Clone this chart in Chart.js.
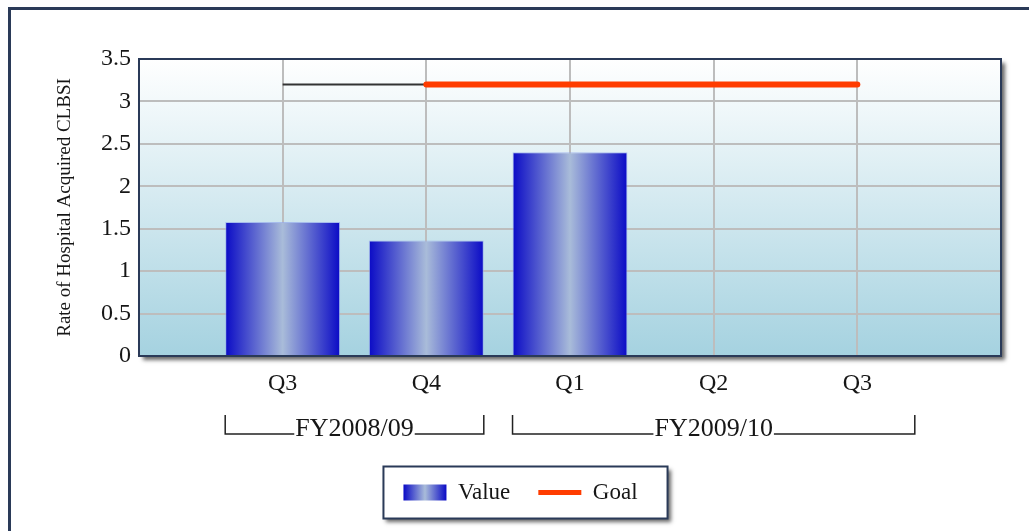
<!DOCTYPE html>
<html>
<head>
<meta charset="utf-8">
<title>Rate of Hospital Acquired CLBSI</title>
<script src="https://cdn.jsdelivr.net/npm/chart.js@4.4.1/dist/chart.umd.min.js"></script>
<style>
  html, body { margin: 0; padding: 0; background: #fff; }
  #wrap { width: 1029px; height: 531px; }
</style>
</head>
<body>
<div id="wrap"><canvas id="chart" width="1029" height="531"></canvas></div>
<script>
// --- data ---
const quarters = ['', 'Q3', 'Q4', 'Q1', 'Q2', 'Q3', ''];
const rateValues = [null, 1.58, 1.36, 2.40, null, null, null];
const goalValues = [null, null, 3.2, 3.2, 3.2, 3.2, null];
const priorGoalValues = [null, 3.2, 3.2, null, null, null, null];
const fiscalYears = ['FY2008/09', 'FY2009/10'];
const fiscalStart = [1, 3];
const fiscalEnd = [2, 5];
const yAxisTitle = 'Rate of Hospital Acquired CLBSI';

const SERIF = '"Liberation Serif", "Times New Roman", serif';
const TEXT = '#161616';
const NAVY = '#2a3a58';
const GOAL = '#ff3c00';
const BAR_EDGE = '#0a0ac6';
const BAR_MID = '#a9bcd9';

function barGradient(ctx, x0, x1) {
    const g = ctx.createLinearGradient(x0, 0, x1, 0);
    g.addColorStop(0, BAR_EDGE);
    g.addColorStop(0.5, BAR_MID);
    g.addColorStop(1, BAR_EDGE);
    return g;
}

function halfBar(chart) {
    const xs = chart.scales.x;
    return (xs.getPixelForValue(1) - xs.getPixelForValue(0)) * 0.4;
}

// background, plot panel and legend frame
const backdrop = {
    id: 'backdrop',
    beforeDraw(chart) {
        const { ctx, chartArea: a } = chart;
        ctx.save();
        // outer frame (runs off the right/bottom edge like the source image)
        ctx.strokeStyle = NAVY;
        ctx.lineWidth = 3;
        ctx.strokeRect(9.5, 8.5, 1200, 700);

        // plot panel with drop shadow
        ctx.shadowColor = 'rgba(0,0,0,0.6)';
        ctx.shadowBlur = 4;
        ctx.shadowOffsetX = 4;
        ctx.shadowOffsetY = 4;
        const bg = ctx.createLinearGradient(0, a.top, 0, a.bottom);
        bg.addColorStop(0, '#ffffff');
        bg.addColorStop(1, '#a5d2e0');
        ctx.fillStyle = bg;
        ctx.fillRect(a.left, a.top, a.right - a.left, a.bottom - a.top);

        // legend frame
        const hb = chart.legend.legendHitBoxes;
        if (hb && hb.length) {
            const last = hb[hb.length - 1];
            const cy = hb[0].top + hb[0].height / 2;
            const lx = hb[0].left - 20;
            const rx = last.left + last.width + 30;
            ctx.fillStyle = '#fff';
            ctx.shadowOffsetX = 3;
            ctx.shadowOffsetY = 3;
            ctx.fillRect(lx, cy - 26, rx - lx, 52);
            ctx.shadowColor = 'transparent';
            ctx.strokeStyle = NAVY;
            ctx.lineWidth = 2;
            ctx.strokeRect(lx, cy - 26, rx - lx, 52);
            // gradient swatch for "Value"
            const sx = hb[0].left;
            const sy = hb[0].top + hb[0].height / 2 - 8;
            ctx.fillStyle = barGradient(ctx, sx, sx + 43);
            ctx.fillRect(sx, sy, 43, 16);
        }
        ctx.restore();
    },
    afterDraw(chart) {
        const { ctx, chartArea: a } = chart;
        const xs = chart.scales.x;
        ctx.save();
        // plot border
        ctx.strokeStyle = NAVY;
        ctx.lineWidth = 2;
        ctx.strokeRect(a.left, a.top, a.right - a.left, a.bottom - a.top);

        // fiscal year brackets under the quarter labels
        const half = halfBar(chart);
        const yLine = a.bottom + 78;
        const yTop = a.bottom + 59;
        ctx.font = '26px ' + SERIF;
        ctx.fillStyle = TEXT;
        ctx.strokeStyle = '#222';
        ctx.lineWidth = 1.5;
        ctx.textAlign = 'center';
        ctx.textBaseline = 'alphabetic';
        fiscalYears.forEach((label, i) => {
            const x0 = xs.getPixelForValue(fiscalStart[i]) - half;
            const x1 = xs.getPixelForValue(fiscalEnd[i]) + half;
            const mid = (x0 + x1) / 2;
            const tw = ctx.measureText(label).width;
            ctx.beginPath();
            ctx.moveTo(x0, yTop);
            ctx.lineTo(x0, yLine);
            ctx.lineTo(mid - tw / 2 - 1, yLine);
            ctx.moveTo(mid + tw / 2 + 1, yLine);
            ctx.lineTo(x1, yLine);
            ctx.lineTo(x1, yTop);
            ctx.stroke();
            ctx.fillText(label, mid, yLine + 2);
        });
        ctx.restore();
    }
};

new Chart(document.getElementById('chart'), {
    type: 'bar',
    data: {
        labels: quarters,
        datasets: [
            {
                label: 'Value',
                data: rateValues,
                backgroundColor: (c) => {
                    const chart = c.chart;
                    if (!chart.chartArea || c.dataIndex === undefined) return BAR_EDGE;
                    const x = chart.scales.x.getPixelForValue(c.dataIndex);
                    const h = halfBar(chart);
                    return barGradient(chart.ctx, x - h, x + h);
                },
                borderColor: 'rgba(150,170,235,0.7)',
                borderWidth: 1,
                categoryPercentage: 0.8,
                barPercentage: 1,
                order: 3
            },
            {
                type: 'line',
                label: 'Goal',
                data: goalValues,
                borderColor: GOAL,
                backgroundColor: GOAL,
                borderWidth: 6,
                borderCapStyle: 'round',
                pointRadius: 0,
                fill: false,
                order: 1
            },
            {
                type: 'line',
                label: 'Goal FY2008/09',
                data: priorGoalValues,
                borderColor: '#333',
                borderWidth: 2,
                pointRadius: 0,
                fill: false,
                order: 2
            }
        ]
    },
    options: {
        responsive: false,
        animation: false,
        layout: { padding: { left: 40, right: 28, top: 59, bottom: 17 } },
        plugins: {
            tooltip: { enabled: false },
            legend: {
                position: 'bottom',
                labels: {
                    font: { family: SERIF, size: 23 },
                    color: TEXT,
                    usePointStyle: true,
                    pointStyleWidth: 43,
                    boxHeight: 16,
                    padding: 28,
                    generateLabels: () => [
                        { text: 'Value', fillStyle: 'rgba(0,0,0,0)', strokeStyle: 'rgba(0,0,0,0)',
                          lineWidth: 0, pointStyle: 'rect', datasetIndex: 0, hidden: false, fontColor: TEXT },
                        { text: 'Goal', fillStyle: GOAL, strokeStyle: GOAL,
                          lineWidth: 5, pointStyle: 'line', datasetIndex: 1, hidden: false, fontColor: TEXT }
                    ]
                }
            }
        },
        scales: {
            x: {
                offset: false,
                grid: { offset: false, color: '#bdbdbd', lineWidth: 2, drawTicks: false },
                border: { display: false },
                ticks: { font: { family: SERIF, size: 24 }, color: TEXT, padding: 13, maxRotation: 0, autoSkip: false },
                afterFit: (s) => { s.height = 97; }
            },
            y: {
                min: 0,
                max: 3.5,
                grid: { color: '#bdbdbd', lineWidth: 2, drawTicks: false },
                border: { display: false },
                ticks: {
                    stepSize: 0.5,
                    font: { family: SERIF, size: 24 },
                    color: TEXT,
                    padding: 8,
                    callback: (v) => String(v)
                },
                title: {
                    display: true,
                    text: yAxisTitle,
                    font: { family: SERIF, size: 19 },
                    color: TEXT,
                    padding: { top: 14, bottom: 0 }
                },
                afterFit: (s) => { s.width = 99; }
            }
        }
    },
    plugins: [backdrop]
});
</script>
</body>
</html>
